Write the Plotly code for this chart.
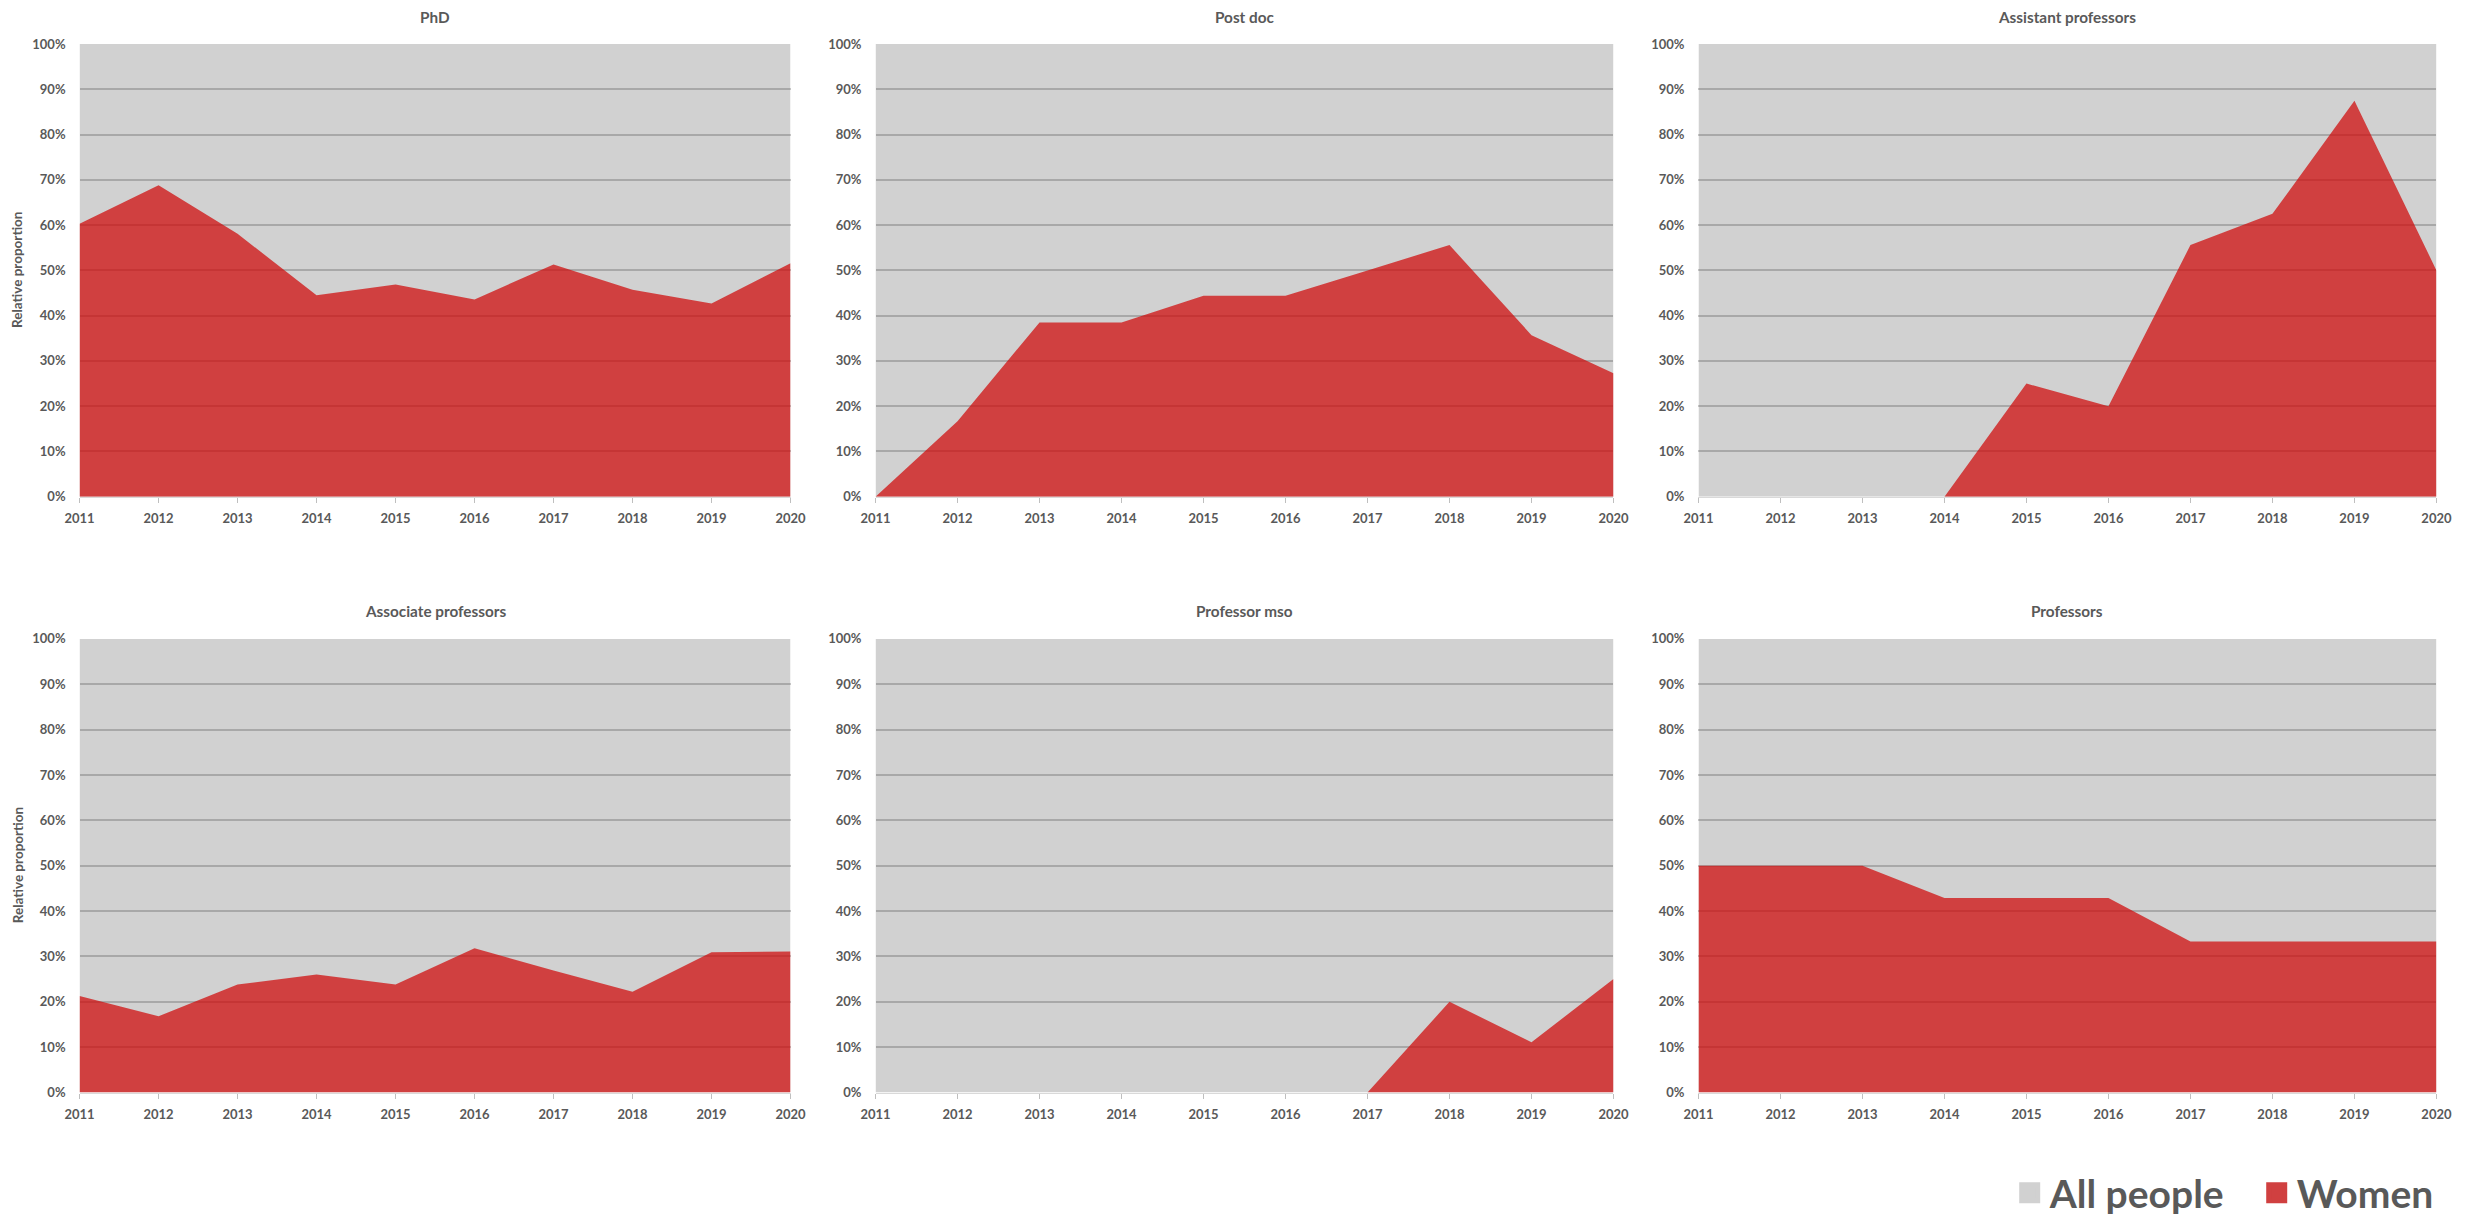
import plotly.graph_objects as go

years = [2011, 2012, 2013, 2014, 2015, 2016, 2017, 2018, 2019, 2020]
panel_titles = ["PhD", "Post doc", "Assistant professors",
                "Associate professors", "Professor mso", "Professors"]

all_people = [1.0, 1.0, 1.0, 1.0, 1.0, 1.0, 1.0, 1.0, 1.0, 1.0]
phd = [0.603, 0.688, 0.581, 0.445, 0.469, 0.436, 0.513, 0.457, 0.427, 0.516]
post_doc = [0.0, 0.167, 0.385, 0.385, 0.444, 0.444, 0.500, 0.556, 0.357, 0.273]
assistant = [0.0, 0.0, 0.0, 0.0, 0.25, 0.20, 0.556, 0.625, 0.875, 0.50]
associate = [0.213, 0.168, 0.238, 0.260, 0.238, 0.318, 0.269, 0.222, 0.309, 0.311]
prof_mso = [0.0, 0.0, 0.0, 0.0, 0.0, 0.0, 0.0, 0.20, 0.111, 0.25]
professors = [0.50, 0.50, 0.50, 0.429, 0.429, 0.429, 0.333, 0.333, 0.333, 0.333]

women = [phd, post_doc, assistant, associate, prof_mso, professors]

W, H = 2471, 1225
SX = 0.9875  # observed horizontal display scale about the page centre
TEXT = "#595959"
GREY_FILL = "rgba(0,0,0,0.18)"
RED_FILL = "rgba(208,8,8,0.72)"
LEG_GREY = "#d1d1d1"
LEG_RED = "#d04040"
FONT = "Lato, Carlito, Calibri, Liberation Sans, sans-serif"


def fx(p):
    return (p - W / 2) / SX + W / 2


def fy(p):
    # observed vertical mapping correction
    return 36.8 + (p - 44) * 1.0205


def px(p):
    return fx(p) / W


def py(p):
    return 1 - fy(p) / H


# target page-pixel boxes of plot areas
cols = [(80, 791), (876, 1614), (1699, 2437)]
rows = [(44, 496), (638, 1091)]
title_y = [17, 610]

fig = go.Figure()
layout = dict()
annotations = []

for i in range(6):
    r, c = divmod(i, 3)
    n = i + 1
    xa = "x" if n == 1 else f"x{n}"
    ya = "y" if n == 1 else f"y{n}"
    fig.add_trace(go.Scatter(x=years, y=all_people, mode="lines", fill="tozeroy",
                             fillcolor=GREY_FILL, line=dict(width=0),
                             showlegend=False, xaxis=xa, yaxis=ya, name="All people",
                             hoverinfo="skip"))
    fig.add_trace(go.Scatter(x=years, y=women[i], mode="lines", fill="tozeroy",
                             fillcolor=RED_FILL, line=dict(width=0),
                             showlegend=False, xaxis=xa, yaxis=ya, name="Women"))
    l, rr = cols[c]
    t, b = rows[r]
    xkey = "xaxis" if n == 1 else f"xaxis{n}"
    ykey = "yaxis" if n == 1 else f"yaxis{n}"
    layout[xkey] = dict(
        domain=[px(l), px(rr)], anchor=ya, range=[2011, 2020],
        tickvals=years, ticktext=[str(y) for y in years],
        showgrid=False, zeroline=False, showline=True, linecolor="#d9d9d9", linewidth=1,
        ticks="outside", ticklen=5, tickcolor="#bfbfbf",
        tickfont=dict(family=FONT, size=13, color=TEXT, weight="bold"),
        ticklabelstandoff=5, fixedrange=True,
    )
    layout[ykey] = dict(
        domain=[py(b), py(t)], anchor=xa, range=[0, 1],
        tickvals=[k / 10 for k in range(11)], tickformat=".0%",
        showgrid=True, gridcolor="rgb(205,205,205)", gridwidth=1.5,
        zeroline=False, showline=False, ticks="",
        tickfont=dict(family=FONT, size=13, color=TEXT, weight="bold"),
        ticklabelstandoff=13, fixedrange=True,
    )
    annotations.append(dict(
        text=panel_titles[i], xref="paper", yref="paper",
        x=px((l + rr) / 2), y=py(title_y[r]), xanchor="center", yanchor="middle",
        showarrow=False, font=dict(family=FONT, size=15.3, color=TEXT, weight="bold"),
    ))
    if c == 0:
        annotations.append(dict(
            text="Relative proportion", xref="paper", yref="paper",
            x=px(18), y=py((t + b) / 2), xanchor="center", yanchor="middle",
            textangle=-90, showarrow=False,
            font=dict(family=FONT, size=13.5, color=TEXT, weight="bold"),
        ))

# legend entries
fig.add_trace(go.Scatter(x=[None], y=[None], mode="markers", name="All people",
                         legendwidth=202,
                         marker=dict(symbol="square", size=16, color=LEG_GREY,
                                     line=dict(width=8, color=LEG_GREY))))
fig.add_trace(go.Scatter(x=[None], y=[None], mode="markers", name="Women",
                         marker=dict(symbol="square", size=16, color=LEG_RED,
                                     line=dict(width=8, color=LEG_RED))))

fig.update_layout(
    width=W, height=H,
    margin=dict(l=0, r=0, t=0, b=0),
    paper_bgcolor="white", plot_bgcolor="white",
    annotations=annotations,
    showlegend=True,
    legend=dict(orientation="h", x=(fx(2030) - 20) / W, xanchor="left",
                y=1 - 1208 / H, yanchor="middle",
                font=dict(family=FONT, size=39, color=TEXT, weight="bold"),
                bgcolor="rgba(0,0,0,0)", itemsizing="trace"),
    **layout,
)

fig.write_html("out.html")
